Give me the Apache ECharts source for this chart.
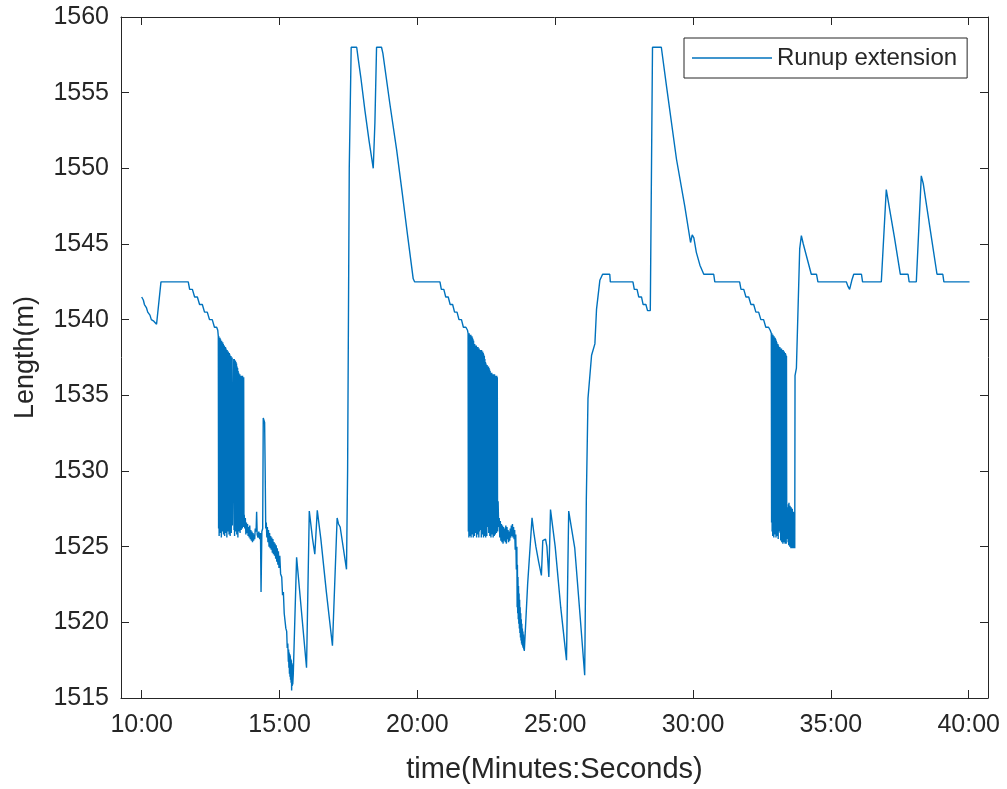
<!DOCTYPE html>
<html>
<head>
<meta charset="utf-8">
<script src="https://cdn.jsdelivr.net/npm/echarts@6/dist/echarts.min.js"></script>
<style>
  html, body { margin: 0; padding: 0; background: #ffffff; }
  #chart { width: 1007px; height: 789px; }
</style>
</head>
<body>
<div id="chart"></div>
<script>
// Axis ticks (x in minutes, y in metres)
const xTickMinutes = [10, 15, 20, 25, 30, 35, 40];
const yTickValues = [1515, 1520, 1525, 1530, 1535, 1540, 1545, 1550, 1555, 1560];

const seriesName = 'Runup extension';

// Samples as [elapsed minutes, runup length in metres], one array per stretch of the record
const startPlateau = [
  [10.00, 1541.5], [10.06, 1541.3], [10.10, 1541.0], [10.17, 1540.8], [10.22, 1540.5], [10.30, 1540.3],
  [10.35, 1540.0], [10.44, 1539.9], [10.54, 1539.7], [10.70, 1542.5], [11.69, 1542.5]
];

const retraction1 = [
  [11.74, 1542.0], [11.84, 1542.0], [11.92, 1541.5], [12.02, 1541.5], [12.10, 1541.0], [12.20, 1541.0],
  [12.28, 1540.5], [12.38, 1540.5], [12.46, 1540.0], [12.56, 1540.0], [12.64, 1539.5], [12.72, 1539.5],
  [12.76, 1539.3]
];

const burst1 = [
  [12.78, 1538.9], [12.79, 1526.2], [12.80, 1538.9], [12.81, 1525.7], [12.82, 1538.8], [12.83, 1526.5],
  [12.84, 1538.8], [12.85, 1525.9], [12.86, 1538.7], [12.87, 1526.8], [12.88, 1538.6], [12.89, 1525.6],
  [12.90, 1538.6], [12.91, 1526.3], [12.92, 1538.5], [12.93, 1526.0], [12.94, 1538.5], [12.95, 1526.6],
  [12.96, 1538.4], [12.97, 1525.8], [12.98, 1538.3], [12.99, 1526.2], [13.00, 1538.3], [13.01, 1525.7],
  [13.02, 1538.2], [13.03, 1526.5], [13.04, 1538.2], [13.05, 1525.9], [13.06, 1538.1], [13.07, 1526.8],
  [13.08, 1538.0], [13.09, 1525.6], [13.10, 1538.0], [13.11, 1526.3], [13.12, 1537.9], [13.13, 1526.0],
  [13.14, 1537.9], [13.15, 1526.6], [13.16, 1537.8], [13.17, 1525.8], [13.18, 1537.8], [13.19, 1526.2],
  [13.20, 1537.7], [13.21, 1525.7], [13.22, 1537.6], [13.23, 1526.5], [13.24, 1537.6], [13.25, 1525.9],
  [13.26, 1537.5], [13.27, 1526.8], [13.28, 1537.5], [13.29, 1526.4],
  [13.34, 1537.4], [13.35, 1526.1], [13.36, 1537.4], [13.37, 1525.7], [13.38, 1537.3], [13.39, 1526.5],
  [13.40, 1537.3], [13.41, 1526.0], [13.42, 1537.2], [13.43, 1526.7], [13.44, 1537.1], [13.45, 1525.8],
  [13.46, 1536.9], [13.47, 1526.3], [13.48, 1536.8], [13.49, 1525.6], [13.50, 1536.6], [13.51, 1526.4],
  [13.52, 1536.5], [13.53, 1526.0], [13.54, 1536.4], [13.55, 1526.6], [13.56, 1536.4], [13.57, 1525.9],
  [13.58, 1536.3], [13.59, 1526.5], [13.60, 1536.3], [13.61, 1526.1], [13.62, 1536.3], [13.63, 1526.8],
  [13.64, 1536.3], [13.65, 1526.2], [13.66, 1536.3], [13.67, 1526.7], [13.68, 1536.2], [13.69, 1526.3],
  [13.70, 1536.2], [13.71, 1526.9]
];

const lowStretch1 = [
  [13.72, 1527.1], [13.74, 1526.2], [13.76, 1526.9], [13.78, 1525.8], [13.80, 1526.6], [13.82, 1525.9],
  [13.84, 1526.5], [13.86, 1525.7], [13.88, 1526.3], [13.90, 1525.6], [13.92, 1526.4], [13.94, 1525.5],
  [13.96, 1526.1], [13.98, 1525.4], [14.00, 1526.0], [14.02, 1525.3], [14.04, 1525.9], [14.06, 1525.4],
  [14.08, 1525.8], [14.10, 1525.5], [14.12, 1526.2], [14.15, 1526.0], [14.17, 1527.3], [14.19, 1525.8],
  [14.22, 1525.6], [14.25, 1526.0], [14.28, 1525.5], [14.31, 1525.9], [14.33, 1522.0], [14.36, 1526.0],
  [14.39, 1526.2], [14.41, 1533.5], [14.46, 1533.2], [14.48, 1530.0], [14.50, 1526.2], [14.52, 1526.6],
  [14.54, 1525.6], [14.56, 1526.3], [14.58, 1525.3], [14.60, 1526.1], [14.62, 1525.0], [14.64, 1525.9],
  [14.66, 1524.9], [14.68, 1525.7], [14.70, 1524.8], [14.72, 1525.6], [14.74, 1524.6], [14.76, 1525.5],
  [14.78, 1524.5], [14.80, 1525.3], [14.82, 1524.4], [14.84, 1525.2], [14.86, 1524.2], [14.88, 1525.1],
  [14.90, 1524.0], [14.92, 1524.9], [14.94, 1523.8], [14.96, 1524.7], [14.98, 1523.6], [15.01, 1524.4],
  [15.04, 1523.2], [15.08, 1523.0], [15.11, 1521.8], [15.14, 1522.0], [15.17, 1520.6], [15.20, 1520.5],
  [15.23, 1519.6], [15.26, 1519.4], [15.28, 1518.3], [15.30, 1518.6], [15.32, 1517.4], [15.33, 1518.2],
  [15.34, 1517.0], [15.35, 1518.0], [15.36, 1516.6], [15.37, 1517.9], [15.38, 1516.4], [15.39, 1517.8],
  [15.40, 1516.2], [15.41, 1517.6], [15.42, 1516.0], [15.43, 1517.5], [15.44, 1515.5], [15.45, 1517.3],
  [15.46, 1515.8], [15.47, 1517.2], [15.48, 1515.9], [15.50, 1516.6], [15.62, 1524.3], [15.98, 1517.0],
  [16.08, 1527.35], [16.20, 1525.5], [16.28, 1524.5], [16.37, 1527.4], [16.50, 1525.5], [16.70, 1522.0],
  [16.92, 1518.45], [17.09, 1526.9], [17.14, 1526.5], [17.20, 1526.3], [17.43, 1523.5]
];

const doublePeak = [
  [17.47, 1530.0], [17.53, 1550.0], [17.60, 1558.0], [17.80, 1558.0], [17.85, 1557.3], [17.95, 1556.0],
  [18.10, 1553.8], [18.25, 1551.8], [18.40, 1550.0], [18.46, 1553.0], [18.52, 1558.0], [18.70, 1558.0],
  [18.75, 1557.6], [19.00, 1554.3], [19.25, 1551.2], [19.45, 1548.4], [19.65, 1545.5], [19.85, 1542.7],
  [19.90, 1542.5], [20.82, 1542.5]
];

const retraction2 = [
  [20.87, 1542.0], [20.96, 1542.0], [21.03, 1541.5], [21.12, 1541.5], [21.19, 1541.0], [21.28, 1541.0],
  [21.35, 1540.5], [21.44, 1540.5], [21.51, 1540.0], [21.60, 1540.0], [21.67, 1539.5], [21.76, 1539.5],
  [21.82, 1539.3]
];

const burst2 = [
  [21.84, 1539.1], [21.85, 1526.0], [21.86, 1539.1], [21.87, 1525.6], [21.88, 1539.1], [21.89, 1526.3],
  [21.90, 1539.0], [21.91, 1525.7], [21.92, 1539.0], [21.93, 1526.5], [21.94, 1539.0], [21.95, 1525.6],
  [21.96, 1538.9], [21.97, 1526.2], [21.98, 1538.9], [21.99, 1525.8], [22.00, 1538.8], [22.01, 1526.4],
  [22.02, 1538.7], [22.03, 1525.6], [22.04, 1538.6], [22.05, 1526.1], [22.06, 1538.4], [22.07, 1525.7],
  [22.08, 1538.4], [22.09, 1526.5], [22.10, 1538.3], [22.11, 1525.9], [22.12, 1538.3], [22.13, 1526.3],
  [22.14, 1538.3], [22.15, 1525.6], [22.16, 1538.2], [22.17, 1526.2], [22.18, 1538.2], [22.19, 1525.8],
  [22.20, 1538.2], [22.21, 1526.4], [22.22, 1538.1], [22.23, 1525.6], [22.24, 1538.1], [22.25, 1526.0],
  [22.29, 1538.0], [22.30, 1526.1], [22.31, 1538.0], [22.32, 1525.6], [22.33, 1538.0], [22.34, 1526.5],
  [22.35, 1537.9], [22.36, 1525.8], [22.37, 1537.9], [22.38, 1526.2], [22.39, 1537.8], [22.40, 1525.6],
  [22.41, 1537.7], [22.42, 1526.4], [22.43, 1537.6], [22.44, 1525.7], [22.45, 1537.4], [22.46, 1526.3],
  [22.47, 1537.2], [22.48, 1525.6], [22.49, 1537.1], [22.50, 1526.1], [22.51, 1537.0], [22.52, 1525.7],
  [22.53, 1537.0], [22.54, 1526.3],
  [22.58, 1536.9], [22.59, 1525.9], [22.60, 1536.8], [22.61, 1526.4], [22.62, 1536.7], [22.63, 1525.7],
  [22.64, 1536.6], [22.65, 1526.2], [22.66, 1536.5], [22.67, 1525.6], [22.68, 1536.5], [22.69, 1526.4],
  [22.70, 1536.5], [22.71, 1525.8], [22.72, 1536.4], [22.73, 1526.1], [22.74, 1536.4], [22.75, 1525.6],
  [22.76, 1536.4], [22.77, 1526.3], [22.78, 1536.4], [22.79, 1525.7], [22.80, 1536.4], [22.81, 1526.2],
  [22.82, 1536.3], [22.83, 1525.8], [22.84, 1536.3], [22.85, 1526.4], [22.86, 1536.3], [22.87, 1525.9],
  [22.88, 1536.3], [22.89, 1526.2], [22.90, 1536.2], [22.91, 1526.0]
];

const lowStretch2 = [
  [22.93, 1528.0], [22.95, 1526.3], [22.97, 1526.9], [22.99, 1525.6], [23.01, 1526.7], [23.03, 1525.4],
  [23.05, 1526.5], [23.07, 1525.3], [23.09, 1526.4], [23.11, 1525.2], [23.13, 1526.3], [23.15, 1525.4],
  [23.17, 1526.2], [23.19, 1525.3], [23.21, 1526.4], [23.23, 1525.2], [23.25, 1526.3], [23.27, 1525.5],
  [23.29, 1526.1], [23.31, 1525.3], [23.33, 1526.0], [23.35, 1525.4], [23.37, 1526.2], [23.39, 1525.6],
  [23.41, 1526.4], [23.43, 1525.7], [23.45, 1526.5], [23.47, 1525.6], [23.49, 1526.3], [23.51, 1525.5],
  [23.53, 1526.1], [23.55, 1524.8], [23.57, 1525.8], [23.59, 1523.5], [23.61, 1525.0], [23.62, 1521.0],
  [23.63, 1523.8], [23.64, 1520.6], [23.65, 1523.0], [23.66, 1520.2], [23.67, 1522.4], [23.68, 1519.9],
  [23.69, 1521.9], [23.70, 1519.6], [23.71, 1521.5], [23.72, 1519.3], [23.73, 1521.0], [23.74, 1519.0],
  [23.75, 1520.6], [23.76, 1518.8], [23.77, 1520.2], [23.78, 1518.6], [23.79, 1519.9], [23.80, 1518.5],
  [23.81, 1519.6], [23.82, 1518.4], [23.83, 1519.4], [23.84, 1518.3], [23.85, 1519.2], [23.86, 1518.2],
  [23.87, 1519.0], [23.88, 1518.1], [23.90, 1518.0], [24.00, 1522.5], [24.16, 1526.9], [24.22, 1526.0],
  [24.30, 1525.0], [24.40, 1524.0], [24.50, 1523.1], [24.55, 1525.4], [24.65, 1525.5], [24.70, 1525.0],
  [24.77, 1523.0], [24.83, 1527.45], [25.00, 1525.0], [25.20, 1521.0], [25.41, 1517.5], [25.49, 1527.35],
  [25.71, 1524.9], [25.90, 1520.5], [26.07, 1516.5]
];

const recovery2 = [
  [26.13, 1528.2], [26.19, 1534.8], [26.32, 1537.65], [26.44, 1538.4], [26.50, 1540.7], [26.62, 1542.6],
  [26.72, 1543.0], [26.98, 1543.0], [27.00, 1542.5], [27.82, 1542.5],
  [27.87, 1542.0], [27.97, 1542.0], [28.03, 1541.5], [28.13, 1541.5], [28.19, 1541.0], [28.29, 1541.0],
  [28.35, 1540.6], [28.45, 1540.6]
];

const secondPeak = [
  [28.53, 1558.0], [28.85, 1558.0], [29.04, 1555.4], [29.40, 1550.6], [29.70, 1547.5], [29.91, 1545.1],
  [29.97, 1545.6], [30.03, 1545.4], [30.12, 1544.45], [30.25, 1543.6], [30.39, 1543.0], [30.75, 1543.0],
  [30.79, 1542.5], [31.69, 1542.5]
];

const retraction3 = [
  [31.74, 1542.0], [31.84, 1542.0], [31.92, 1541.5], [32.02, 1541.5], [32.10, 1541.0], [32.20, 1541.0],
  [32.28, 1540.5], [32.38, 1540.5], [32.46, 1540.0], [32.56, 1540.0], [32.64, 1539.5], [32.74, 1539.5],
  [32.80, 1539.3]
];

const burst3 = [
  [32.84, 1539.1], [32.85, 1526.6], [32.86, 1539.1], [32.87, 1526.0], [32.88, 1539.0], [32.89, 1525.7],
  [32.90, 1539.0], [32.91, 1526.3], [32.92, 1538.9], [32.93, 1525.6], [32.94, 1538.9], [32.95, 1526.1],
  [32.96, 1538.8], [32.97, 1525.8], [32.98, 1538.8], [32.99, 1526.4], [33.00, 1538.7], [33.01, 1525.6],
  [33.02, 1538.6], [33.03, 1526.2], [33.04, 1538.5], [33.05, 1525.7], [33.06, 1538.4], [33.07, 1526.3],
  [33.08, 1538.4], [33.09, 1525.5], [33.10, 1538.3], [33.11, 1526.0],
  [33.15, 1538.2], [33.16, 1525.9], [33.17, 1538.1], [33.18, 1525.4], [33.19, 1538.1], [33.20, 1526.0],
  [33.21, 1538.1], [33.22, 1525.3], [33.23, 1538.0], [33.24, 1525.8], [33.25, 1538.0], [33.26, 1525.2],
  [33.27, 1538.0], [33.28, 1525.9], [33.29, 1537.9], [33.30, 1525.3], [33.31, 1537.9], [33.32, 1525.7],
  [33.33, 1537.8], [33.34, 1525.2], [33.35, 1537.8], [33.36, 1525.6], [33.37, 1537.7], [33.38, 1525.2],
  [33.39, 1537.6], [33.40, 1525.5],
  [33.44, 1527.6], [33.45, 1525.3], [33.46, 1527.8], [33.47, 1525.1], [33.48, 1527.9], [33.49, 1525.4],
  [33.50, 1527.5], [33.51, 1525.0], [33.52, 1527.7], [33.53, 1525.2], [33.54, 1527.3], [33.55, 1524.9],
  [33.56, 1527.6], [33.57, 1525.1], [33.58, 1527.2], [33.59, 1524.9], [33.60, 1527.5], [33.61, 1525.0],
  [33.62, 1527.0], [33.63, 1524.9], [33.64, 1527.3], [33.65, 1524.9], [33.66, 1526.8], [33.67, 1524.9],
  [33.68, 1526.5], [33.69, 1524.9]
];

const finalStretch = [
  [33.70, 1536.3], [33.75, 1536.8], [33.87, 1544.7], [33.93, 1545.55], [34.00, 1545.0], [34.29, 1543.0],
  [34.48, 1543.0], [34.53, 1542.5], [35.56, 1542.5], [35.62, 1542.2], [35.68, 1542.0], [35.76, 1542.6],
  [35.83, 1543.0], [36.11, 1543.0], [36.15, 1542.5], [36.83, 1542.5], [37.01, 1548.6], [37.05, 1548.5],
  [37.30, 1545.5], [37.52, 1543.0], [37.80, 1543.0], [37.84, 1542.5], [38.10, 1542.5], [38.28, 1549.5],
  [38.35, 1549.0], [38.60, 1546.0], [38.85, 1543.0], [39.06, 1543.0], [39.10, 1542.5], [40.03, 1542.5]
];

const points = [].concat(
  startPlateau, retraction1, burst1, lowStretch1, doublePeak, retraction2, burst2,
  lowStretch2, recovery2, secondPeak, retraction3, burst3, finalStretch
);

const FONT = '"Liberation Sans", Arial, Helvetica, sans-serif';
const INK = '#262626';
const LINE_BLUE = '#0072BD';

const xRange = { min: 9.25, max: 40.70 };
const yRange = { min: 1515, max: 1560, interval: 5 };

const fmtMinutes = v => `${Math.round(v)}:00`;
const fmtPlain = v => String(v);

const chart = echarts.init(document.getElementById('chart'), null, { renderer: 'canvas' });

chart.setOption({
  animation: false,
  backgroundColor: '#ffffff',
  textStyle: { fontFamily: FONT, color: INK },
  grid: { left: 121, right: 19, top: 17, bottom: 87, containLabel: false },
  legend: {
    left: 684,
    top: 38,
    padding: [8, 10, 8, 8],
    icon: 'rect',
    itemWidth: 80,
    itemHeight: 1.4,
    backgroundColor: '#ffffff',
    borderColor: INK,
    borderWidth: 1,
    borderRadius: 0,
    textStyle: { fontFamily: FONT, fontSize: 24, color: INK },
    data: [seriesName]
  },
  xAxis: [
    {
      type: 'value',
      position: 'bottom',
      min: xRange.min,
      max: xRange.max,
      name: 'time(Minutes:Seconds)',
      nameLocation: 'middle',
      nameGap: 57,
      nameTextStyle: { fontFamily: FONT, fontSize: 29, color: INK },
      axisLine: { show: true, onZero: false, lineStyle: { color: INK, width: 1 } },
      axisTick: { show: true, inside: true, length: 8, customValues: xTickMinutes, lineStyle: { color: INK } },
      axisLabel: { show: true, customValues: xTickMinutes, formatter: fmtMinutes, margin: 15,
                   fontFamily: FONT, fontSize: 25, color: INK },
      splitLine: { show: false }
    },
    {
      type: 'value',
      position: 'top',
      min: xRange.min,
      max: xRange.max,
      axisLine: { show: true, onZero: false, lineStyle: { color: INK, width: 1 } },
      axisTick: { show: true, inside: true, length: 8, customValues: xTickMinutes, lineStyle: { color: INK } },
      axisLabel: { show: false },
      splitLine: { show: false }
    }
  ],
  yAxis: [
    {
      type: 'value',
      position: 'left',
      min: yRange.min,
      max: yRange.max,
      interval: yRange.interval,
      name: 'Length(m)',
      nameLocation: 'middle',
      nameGap: 82,
      nameTextStyle: { fontFamily: FONT, fontSize: 27, color: INK },
      axisLine: { show: true, onZero: false, lineStyle: { color: INK, width: 1 } },
      axisTick: { show: true, inside: true, length: 8, lineStyle: { color: INK } },
      axisLabel: { show: true, margin: 12, formatter: fmtPlain, fontFamily: FONT, fontSize: 25, color: INK,
                   customValues: yTickValues },
      splitLine: { show: false }
    },
    {
      type: 'value',
      position: 'right',
      min: yRange.min,
      max: yRange.max,
      interval: yRange.interval,
      axisLine: { show: true, onZero: false, lineStyle: { color: INK, width: 1 } },
      axisTick: { show: true, inside: true, length: 8, lineStyle: { color: INK } },
      axisLabel: { show: false },
      splitLine: { show: false }
    }
  ],
  series: [
    {
      name: seriesName,
      type: 'line',
      xAxisIndex: 0,
      yAxisIndex: 0,
      data: points,
      symbol: 'none',
      showSymbol: false,
      clip: true,
      lineStyle: { color: LINE_BLUE, width: 1.4 },
      itemStyle: { color: LINE_BLUE }
    }
  ]
});
</script>
</body>
</html>
